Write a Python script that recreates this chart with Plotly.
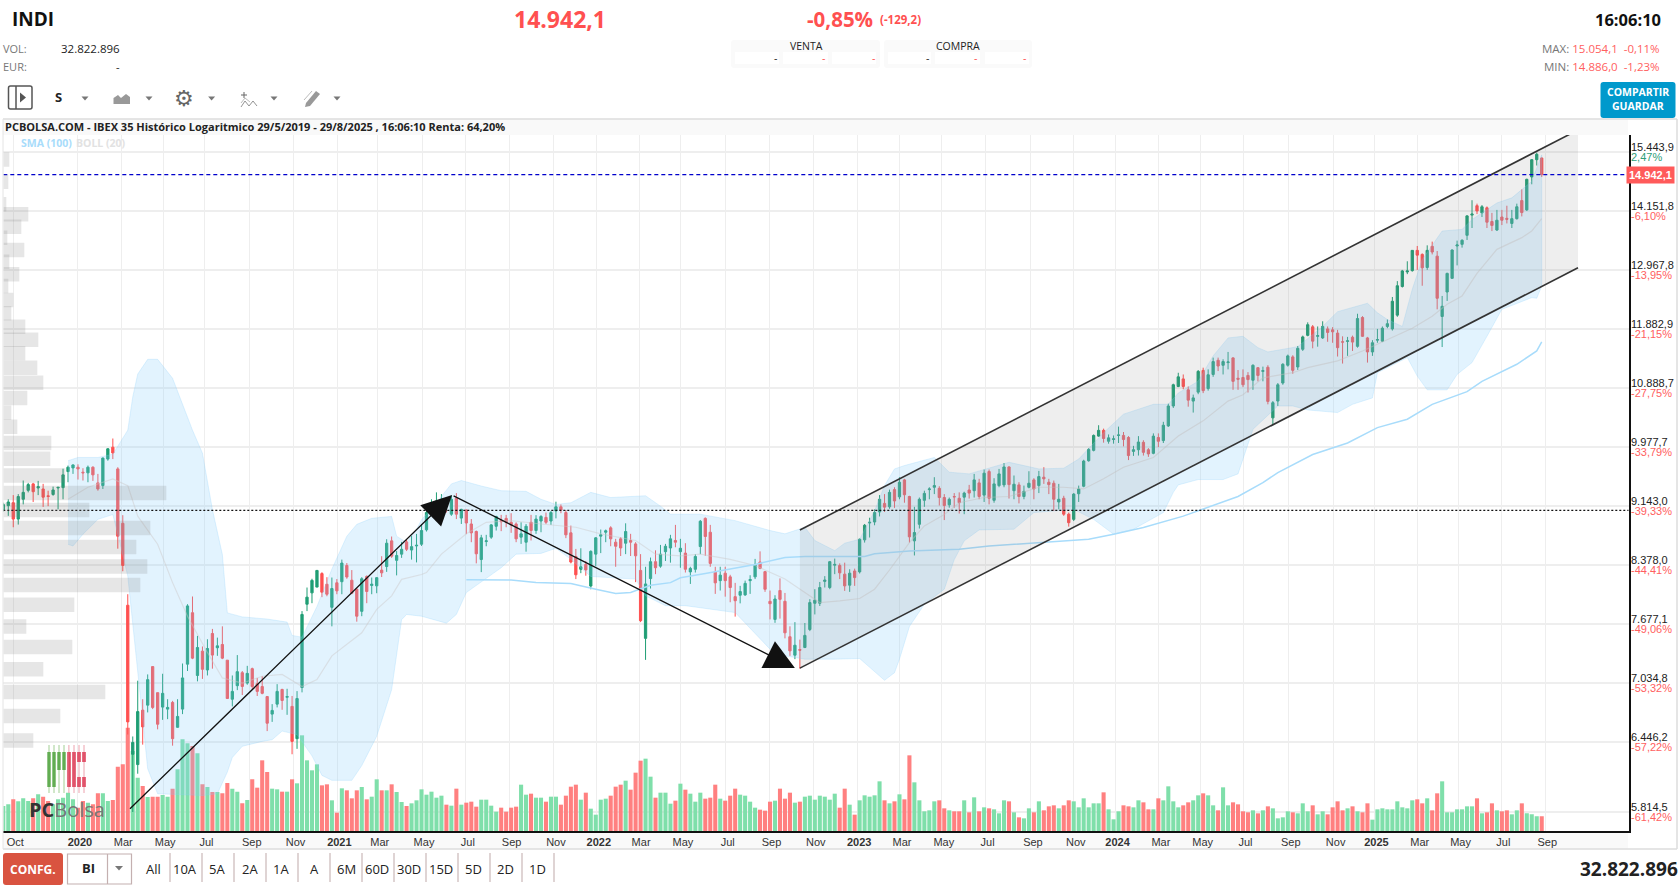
import math
import pandas as pd
import plotly.graph_objects as go

# weekly IBEX 35 candles, Sep 2019 - Aug 2025
opens = [9095,9150,9190,8970,9237,9360,9450,9393,9379,9285,
         9303,9393,9398,9624,9676,9686,9615,9606,9686,9464,
         9426,9804,9978,9662,8914,7895,6331,6235,6759,6809,
         7209,6936,6789,6769,6836,6589,6769,7235,7808,7115,
         7376,7173,7571,7413,7449,7278,6869,7008,7144,7035,
         7187,7028,6999,6896,6719,6819,6969,6889,6796,6479,
         6989,7907,8041,8110,8274,8144,7871,8162,8175,8374,
         8193,8085,7824,8239,8130,8125,8317,8361,8685,8438,
         8516,8672,8568,8620,8642,8828,9134,9143,9200,9214,
         9035,9251,8983,9091,8905,8806,8448,8676,8733,8875,
         8949,8979,8927,8905,8733,8668,8927,8819,8944,8992,
         8944,9078,9134,9057,8789,8486,8327,8387,8123,8516,
         8746,8797,8854,8668,8711,8655,8690,8646,8313,7517,
         8213,8421,8366,8547,8594,8690,8547,8529,8295,8327,
         8612,8979,8797,8298,8188,8279,8234,7996,8013,8017,
         8188,8234,8417,8298,7941,7731,8069,7941,7535,7332,
         7394,7416,7616,7918,7918,8179,8105,8378,8374,8267,
         8133,8306,8295,8698,8918,8931,9065,9181,9134,9370,
         9270,9506,9275,8685,8901,9223,9370,9403,9388,9261,
         9162,9275,9251,9266,9365,9355,9464,9294,9624,9223,
         9426,9436,9690,9355,9436,9275,9403,9506,9426,9544,
         9473,9459,9200,9251,9035,8966,9313,9417,9780,9931,
         10143,10230,10066,10092,10153,10153,10122,9916,9940,10050,
         9940,9888,10122,10076,10297,10606,10917,11040,10863,10683,
         10826,11180,10883,11113,11349,11265,11310,11389,11051,11063,
         11097,11018,11225,11164,11232,10421,10684,10973,11266,11406,
         11237,11535,11776,11926,11759,11731,11889,11872,11816,11664,
         11670,11743,11586,12091,11731,11490,11692,11675,11932,11889,
         12134,12660,12935,12961,13356,13276,13022,13436,13242,12110,
         12557,12814,13443,13476,13657,14072,14269,14119,14225,13939,
         13765,14032,14005,13899,13998,14378,14181,14890,15276,15313]
highs = [9190,9237,9294,9308,9497,9464,9464,9492,9450,9355,
         9412,9407,9665,9710,9728,9728,9672,9710,9700,9591,
         9827,9964,10107,9686,9022,8025,6500,7060,6869,7126,
         7209,6936,7133,6869,6852,6869,7242,7907,7998,7545,
         7427,7507,7623,7525,7652,7278,7115,7333,7162,7217,
         7198,7089,7107,6902,6819,7024,6976,6976,6902,6952,
         7827,8105,8211,8317,8291,8230,8226,8207,8447,8404,
         8317,8093,8230,8252,8226,8230,8490,8706,8741,8555,
         8672,8698,8750,8775,8905,9078,9237,9332,9308,9261,
         9285,9322,9108,9100,8970,8819,8763,8763,8905,9013,
         9026,9026,9048,8927,8927,8905,9026,9022,9022,9057,
         9078,9204,9167,9091,8884,8582,8590,8430,8564,8733,
         8832,8832,8875,8711,8733,8914,8776,8668,8516,8358,
         8473,8564,8633,8646,8763,8893,8711,8655,8358,8516,
         8958,8992,8893,8358,8358,8358,8259,8161,8125,8188,
         8254,8456,8551,8306,8069,8013,8215,8040,7652,7700,
         7503,7690,7966,8085,8172,8243,8430,8460,8400,8409,
         8327,8335,8715,8905,8988,9100,9294,9308,9370,9403,
         9544,9521,9285,9134,9261,9355,9403,9544,9417,9308,
         9261,9322,9332,9341,9436,9591,9521,9653,9653,9530,
         9662,9747,9700,9568,9473,9426,9629,9530,9634,9686,
         9521,9497,9450,9285,9057,9322,9426,9794,9964,10168,
         10308,10256,10168,10153,10287,10205,10143,9998,10143,10081,
         9964,10184,10184,10360,10642,10962,11141,11113,10917,10786,
         11186,11225,11197,11394,11394,11366,11490,11400,11186,11197,
         11152,11282,11236,11243,11266,10684,10973,11300,11445,11434,
         11592,11771,12005,11957,11932,12024,11932,11920,11872,11759,
         11749,11771,12159,12116,11749,11692,11889,11932,12055,12465,
         12761,12975,13142,13363,13443,13296,13456,13530,13343,12484,
         12921,13376,13550,13577,14072,14386,14313,14283,14254,14119,
         14181,14181,14269,14181,14313,14619,14852,15291,15437,15327]
lows = [9070,9013,8862,8897,9167,9332,9200,9294,9133,9143,
        9285,9100,9237,9473,9591,9511,9497,9473,9492,9355,
        9379,9780,9804,8585,8303,6519,5812,6151,6422,6736,
        6769,6569,6662,6669,6412,6585,6719,7162,7289,7053,
        7079,7115,7187,7325,7289,6876,6796,6962,6912,7018,
        6976,6902,6919,6552,6642,6786,6762,6712,6331,6382,
        6939,7827,7919,8110,7990,8001,7652,8025,8025,8211,
        8025,7705,7768,7919,8025,8037,8232,8295,8469,8252,
        8469,8555,8447,8412,8620,8806,9013,8970,9100,9057,
        9013,8970,8905,8772,8668,8400,8292,8616,8711,8819,
        8811,8862,8789,8668,8646,8547,8690,8776,8797,8905,
        8893,8979,9048,8720,8400,8207,8279,8248,8084,8366,
        8529,8668,8616,8358,8492,8516,8492,8170,7700,7281,
        8093,8267,8346,8430,8409,8603,8346,8287,8148,8287,
        8516,8495,8358,8029,8069,7996,7930,7763,7917,8005,
        8029,8207,8327,8053,7731,7692,7740,7517,7325,7289,
        7186,7409,7598,7788,7886,8105,8085,8267,8207,8065,
        8053,8125,8275,8663,8728,8888,9005,9065,9108,9120,
        9237,9190,8663,8499,8845,9134,9237,9308,9152,8957,
        9122,9122,9044,9035,9247,9261,9237,9200,9167,9190,
        9403,9403,9247,9237,9181,9237,9388,9237,9322,9450,
        9308,9078,9100,9013,8870,8944,9200,9403,9766,9916,
        10133,10045,10030,10030,10040,9990,9789,9850,9855,9855,
        9836,9874,9978,10040,10282,10575,10906,10872,10595,10503,
        10793,10810,10850,11074,11169,11113,11197,10863,10863,10906,
        10820,10863,11000,11001,10632,10308,10606,10945,11243,11125,
        11187,11507,11759,11552,11580,11714,11664,11647,11412,11294,
        11423,11507,11563,11749,11310,11423,11647,11659,11901,11860,
        12104,12640,12894,12941,12975,12674,12975,13276,12239,11574,
        12392,12810,13062,13410,13563,13806,14094,14032,13806,13743,
        13745,13866,13899,13806,13979,14045,14159,14729,15145,14890]
closes = [9165,9200,8970,9275,9332,9440,9341,9412,9266,9275,
          9365,9402,9577,9686,9719,9662,9606,9686,9577,9379,
          9818,9954,9893,8745,8374,6642,6443,6744,6593,7071,
          6786,6619,6929,6786,6479,6696,7089,7887,7300,7416,
          7180,7405,7333,7434,7300,6876,6949,7155,7000,7137,
          6999,6949,6929,6629,6756,6949,6856,6896,6453,6876,
          7788,7990,8191,8313,8049,8025,8093,8065,8404,8232,
          8037,7768,8211,8057,8145,8224,8283,8655,8490,8499,
          8577,8577,8611,8628,8819,9057,9152,9214,9237,9143,
          9237,9035,9100,8918,8789,8520,8724,8685,8893,9005,
          8936,8927,8893,8711,8776,8875,8819,8970,9005,8927,
          9057,9134,9091,8763,8417,8259,8358,8319,8551,8724,
          8763,8815,8711,8616,8594,8806,8668,8495,7717,8148,
          8421,8346,8516,8616,8711,8668,8590,8327,8338,8486,
          8941,8741,8400,8161,8255,8188,8105,7948,8057,8155,
          8202,8387,8338,8084,7913,7968,7964,7579,7379,7441,
          7386,7550,7926,7954,8105,8195,8421,8387,8283,8125,
          8279,8225,8706,8888,8927,9057,9237,9130,9332,9214,
          9473,9299,8737,8793,9237,9318,9379,9426,9261,9152,
          9237,9270,9190,9322,9322,9506,9275,9601,9251,9450,
          9591,9690,9440,9445,9275,9346,9459,9379,9553,9521,
          9440,9237,9237,9035,8922,9308,9379,9775,9945,10153,
          10230,10107,10117,10102,10160,10092,9855,9940,10055,9902,
          9879,10143,10066,10308,10606,10945,11074,10917,10698,10734,
          11164,10850,11108,11327,11253,11327,11321,11000,11035,10945,
          11029,11265,11097,11176,10678,10658,10945,11282,11423,11181,
          11552,11749,11963,11675,11771,11932,11827,11838,11563,11659,
          11681,11659,12073,11759,11490,11647,11703,11901,11981,12386,
          12674,12955,12955,13356,13262,13015,13356,13323,12441,12294,
          12908,13363,13463,13557,14056,14094,14159,14247,13925,13859,
          13966,13966,13985,13998,14247,14125,14838,15276,15400,14942]
volumes = [75,80,95,89,98,90,98,110,103,90,
           80,95,100,115,95,70,90,85,80,113,
           113,90,93,193,200,310,240,160,135,102,
           103,103,108,103,127,185,275,263,255,233,
           140,132,117,117,113,144,127,118,83,93,
           155,130,212,177,127,125,118,118,155,143,
           287,212,182,200,137,140,92,55,128,122,
           98,122,132,95,103,155,122,122,140,117,
           87,75,83,92,125,109,118,100,106,79,
           76,127,79,85,88,73,94,94,76,58,
           70,58,70,73,139,109,112,100,100,88,
           103,103,79,106,133,139,94,115,67,49,
           94,97,106,133,139,151,124,175,211,217,
           163,100,115,115,82,91,142,124,112,88,
           115,97,100,139,97,91,106,127,109,106,
           88,70,64,61,88,91,127,97,115,85,
           88,103,106,94,106,103,94,112,70,127,
           79,49,92,107,103,107,149,92,83,89,
           110,95,227,146,92,59,62,89,92,68,
           62,59,59,92,56,101,59,71,68,65,
           53,92,89,56,41,38,68,56,89,62,
           74,77,68,77,92,89,71,98,71,83,
           83,116,65,35,59,77,74,71,92,86,
           65,65,98,92,134,89,71,77,86,92,
           107,113,107,77,62,131,77,86,80,59,
           56,62,53,62,74,68,38,41,59,56,
           53,83,59,77,50,59,50,71,89,62,
           68,74,59,56,83,34,65,68,65,65,
           89,71,68,92,95,83,98,62,113,149,
           56,56,65,65,74,74,98,53,56,83,
           62,59,62,50,62,83,53,50,44,44]

# bollinger (20) and sma (100), read at some of the weeks
upper_weeks = [13,15,19,22,23,25,26,27,29,31,34,38,40,42,44,45,48,53,57,58,60,63,66,69,71,74,78,79,81,83,84,87,90,92,96,
               100,105,108,111,114,118,122,129,132,134,140,147,154,157,161,163,167,169,172,175,177,179,181,187,190,194,
               202,208,213,216,221,225,231,234,236,240,243,246,249,252,254,260,265,268,274,276,278,281,283,285,289,293,
               295,300,303,307,309]
upper_band = [9780,9827,9827,9875,9993,10233,10750,11120,11365,11365,11050,10233,9890,9097,8510,7806,7760,7735,7700,7550,7530,7880,8330,8745,8900,8980,9005,8745,8665,8835,8960,9190,9450,9497,9420,
              9355,9346,9237,9167,9190,9332,9261,9285,9143,9035,9035,8949,8819,8776,8862,8689,8560,8655,8706,9078,9426,9662,9710,9827,9615,9591,
              9757,9662,9672,9804,10194,10478,10632,10632,10812,11001,11422,11731,11759,11563,11490,11580,11932,12196,12349,12177,12055,11932,12606,13175,13744,13777,
              13979,14327,14437,14794,15385]
lower_weeks = [13,14,16,19,22,23,25,26,27,28,29,31,40,43,45,46,48,52,54,56,59,62,64,66,70,72,75,78,80,81,84,89,91,93,
               100,103,108,111,114,118,127,129,133,137,147,154,157,161,167,172,177,179,180,182,185,189,191,193,196,
               203,207,215,219,223,227,233,235,236,240,245,248,249,251,256,259,262,268,271,275,276,282,284,286,290,
               292,295,298,301,307,308,309]
lower_band = [8640,8620,8771,8966,9030,8771,8243,7728,7180,6668,6196,5971,5956,5971,6166,6301,6406,6453,6469,6552,6519,6316,6136,6091,6091,6226,6502,6966,7728,7788,7768,7688,7788,8045,
              8346,8516,8525,8590,8451,8239,8207,8006,7890,7890,7810,7398,7325,7289,7289,7296,7064,7144,7289,7650,7907,8085,8447,8685,8827,
              8836,9057,9100,8966,8771,8836,9057,9332,9436,9511,9511,9591,9808,10246,10606,10606,10544,10503,10632,10734,11142,11394,11086,10863,10863,
              11113,11310,11759,12239,12453,12441,12668]
mid_weeks = [13,17,22,25,27,31,34,37,41,44,48,52,56,60,63,66,72,75,78,80,84,85,88,93,97,102,108,115,120,127,131,136,140,146,151,157,161,164,168,
             172,175,178,182,185,189,192,197,202,208,213,217,221,225,231,236,241,246,249,253,259,262,268,273,278,283,287,290,293,296,300,305,307,309]
mid_band = [9237,9403,9521,9426,9009,8642,8164,7768,7362,7089,7035,7107,7126,6999,7071,7325,7579,7847,8006,8204,8263,8287,8516,8776,8927,8949,8905,8862,8776,8690,8516,8495,8516,8451,8374,8208,8045,7926,7946,
            7974,8085,8318,8663,8879,9030,9190,9261,9275,9403,9403,9379,9521,9686,9827,10143,10375,10683,10785,11057,11142,11226,11338,11507,11703,11901,12116,12330,12484,12908,13376,13610,13745,14000]
sma_weeks = [93,102,107,114,119,123,126,130,134,136,141,147,151,157,161,173,175,182,192,198,210,218,223,229,237,241,248,253,256,263,270,276,282,287,294,297,304,308,309]
sma_100 = [8200,8196,8164,8152,8085,8033,8045,8132,8164,8223,8275,8346,8387,8473,8486,8486,8521,8555,8577,8620,8672,8706,8771,8858,9009,9105,9275,9467,9610,9870,10040,10271,10400,10632,10833,11001,11282,11507,11664]

# volume by price on the left side
profile_prices = [15283,14785,14300,14088,13832,13609,13363,13134,12891,12669,12409,12166,11927,11700,11467,11224,10978,10731,10500,10284,
                  10040,9808,9568,9322,9091,8853,8607,8362,8136,7902,7650,7421,7180,6943,6700,6462]
profile_volume = [6,5,3,25,18,4,21,6,16,5,10,8,22,35,22,34,40,24,8,14,
                  48,47,62,163,86,147,133,144,137,71,23,69,40,102,57,30]

# channel and trend lines drawn by hand on the chart
channel_dates = ["2022-10-17", "2025-10-15"]
channel_top = [8825, 15963]
channel_bottom = [7193, 13016]
arrow_start = ("2020-03-17", 5828)
arrow_peak = ("2021-06-15", 9295)
arrow_low = ("2022-10-10", 7193)
last_price = 14942.1
dotted_level = 9087

level_prices = [15443.9,14151.8,12967.8,11882.9,10888.7,9977.7,9143.0,8378.0,7677.1,7034.8,6446.2,5814.5]
level_pcts = [2.47,-6.10,-13.95,-21.15,-27.75,-33.79,-39.33,-44.41,-49.06,-53.32,-57.22,-61.42]

# the chart puts a grid line on the first candle of the month, counted in candles here
tick_weeks = [2.0,15,23.7,32.1,40.4,49.5,58.3,
              67.1,75.2,84.1,92.9,101.7,110.6,
              119.2,127.7,136.1,145.1,153.9,162.8,
              171.5,180.1,188.5,197.3,206.4,215,
              223.4,232.1,240.5,249.1,258.2,267.2,
              275.4,284.1,292.3,300.9,309.7]
tick_text = ["Oct","<b>2020</b>","Mar","May","Jul","Sep","Nov",
             "<b>2021</b>","Mar","May","Jul","Sep","Nov",
             "<b>2022</b>","Mar","May","Jul","Sep","Nov",
             "<b>2023</b>","Mar","May","Jul","Sep","Nov",
             "<b>2024</b>","Mar","May","Jul","Sep","Nov",
             "<b>2025</b>","Mar","May","Jul","Sep"]

periods = ["All","10A","5A","2A","1A","A","6M","60D","30D","15D","5D","2D","1D"]
period_x = [153,185,217,250,281,314,346,377,409,441,473,505,537]
period_sep = [170,202,234,266,298,330,362,394,426,458,490,522,554]

W, H = 1680, 889
PLOT_L, PLOT_R, PLOT_T, PLOT_B = 3.3, 1628.7, 135, 831
UP, DOWN = "#1f9e74", "#ff5050"
SANS = "Open Sans, Liberation Sans, sans-serif"
ARIAL = "Liberation Sans, Arial, sans-serif"

dates = pd.date_range(end="2025-08-25", periods=len(opens), freq="7D")
tick_dates = [dates[0] + pd.Timedelta(weeks=w) for w in tick_weeks]


def px(x):
    return x / W


def py(y):
    return 1 - y / H


def spanish(v):
    return f"{v:,.1f}".replace(",", "X").replace(".", ",").replace("X", ".")


def note(x, y, text, size=11, color="#333", bold=False, anchor="left", family=SANS):
    return dict(xref="paper", yref="paper", x=px(x), y=py(y), text=f"<b>{text}</b>" if bold else text,
                showarrow=False, xanchor=anchor, yanchor="middle", align=anchor,
                font=dict(size=size, color=color, family=family), borderpad=0, borderwidth=0)


def box(x0, y0, x1, y1, fill=None, line=None, width=1, layer="above"):
    return dict(type="rect", xref="paper", yref="paper", x0=px(x0), x1=px(x1), y0=py(y0), y1=py(y1),
                fillcolor=fill or "rgba(0,0,0,0)", line=dict(color=line or "rgba(0,0,0,0)", width=width if line else 0),
                layer=layer)


def seg(x0, y0, x1, y1, color="#bfa9a9", width=1):
    return dict(type="line", xref="paper", yref="paper", x0=px(x0), x1=px(x1), y0=py(y0), y1=py(y1),
                line=dict(color=color, width=width), layer="above")


def poly(points, fill):
    d = "M" + " L".join(f"{px(x):.5f},{py(y):.5f}" for x, y in points) + " Z"
    return dict(type="path", xref="paper", yref="paper", path=d, fillcolor=fill, line=dict(width=0), layer="above")


def rounded(x0, y0, x1, y1, r, fill, line=None):
    d = (f"M{px(x0+r)},{py(y0)} L{px(x1-r)},{py(y0)} Q{px(x1)},{py(y0)} {px(x1)},{py(y0+r)} "
         f"L{px(x1)},{py(y1-r)} Q{px(x1)},{py(y1)} {px(x1-r)},{py(y1)} L{px(x0+r)},{py(y1)} "
         f"Q{px(x0)},{py(y1)} {px(x0)},{py(y1-r)} L{px(x0)},{py(y0+r)} Q{px(x0)},{py(y0)} {px(x0+r)},{py(y0)} Z")
    return dict(type="path", xref="paper", yref="paper", path=d, fillcolor=fill,
                line=dict(color=line or "rgba(0,0,0,0)", width=1.5 if line else 0), layer="above")


fig = go.Figure()

# volume goes on the bottom subplot, price is overlaid
vol_colors = ["#7fdfaa" if c >= o else "#ff8080" for o, c in zip(opens, closes)]
fig.add_trace(go.Bar(x=dates, y=volumes, marker=dict(color=vol_colors, line=dict(width=0)),
                     xaxis="x", yaxis="y", name="Vol"))

fig.add_trace(go.Candlestick(x=dates, open=opens, high=highs, low=lows, close=closes, xaxis="x", yaxis="y2",
                             increasing=dict(line=dict(color=UP, width=1), fillcolor=UP),
                             decreasing=dict(line=dict(color=DOWN, width=1), fillcolor=DOWN),
                             whiskerwidth=0, name="IBEX 35"))

# bollinger band, upper edge then lower edge backwards
band_x = [dates[i] for i in upper_weeks] + [dates[i] for i in reversed(lower_weeks)]
band_y = upper_band + lower_band[::-1]
fig.add_trace(go.Scatter(x=band_x, y=band_y, mode="lines", fill="toself", fillcolor="rgba(135,206,250,0.24)",
                         line=dict(color="rgba(135,206,250,0.25)", width=1), xaxis="x", yaxis="y2", name="BOLL (20)"))
fig.add_trace(go.Scatter(x=[dates[i] for i in mid_weeks], y=mid_band, mode="lines",
                         line=dict(color="rgba(205,200,200,0.45)", width=1.2), xaxis="x", yaxis="y2", name="BOLL mid"))
fig.add_trace(go.Scatter(x=[dates[i] for i in sma_weeks], y=sma_100, mode="lines",
                         line=dict(color="#a8dcfb", width=1.5), xaxis="x", yaxis="y2", name="SMA (100)"))

# regression channel
fig.add_trace(go.Scatter(x=channel_dates + channel_dates[::-1], y=channel_top + channel_bottom[::-1], mode="lines",
                         fill="toself", fillcolor="rgba(125,125,125,0.13)", line=dict(width=0),
                         xaxis="x", yaxis="y2", name="Canal"))
for edge in (channel_top, channel_bottom):
    fig.add_trace(go.Scatter(x=channel_dates, y=edge, mode="lines", line=dict(color="#333", width=1.6),
                             xaxis="x", yaxis="y2", showlegend=False))

x_left, x_right = "2019-09-23", "2025-12-25 07:00"
fig.add_trace(go.Scatter(x=[x_left, x_right], y=[dotted_level] * 2, mode="lines",
                         line=dict(color="#111", width=1.2, dash="2px 2px"), xaxis="x", yaxis="y2", showlegend=False))
fig.add_trace(go.Scatter(x=[x_left, x_right], y=[last_price] * 2, mode="lines",
                         line=dict(color="#0000cc", width=1.2, dash="4px 3px"), xaxis="x", yaxis="y2", showlegend=False))

# volume profile rows, each one a thick segment
prof_x, prof_y = [], []
for p, v in zip(profile_prices, profile_volume):
    prof_x += [0, v, None]
    prof_y += [p, p, None]
fig.add_trace(go.Scatter(x=prof_x, y=prof_y, mode="lines", line=dict(color="rgba(130,130,130,0.2)", width=14.5),
                         xaxis="x3", yaxis="y2", showlegend=False))

shapes = [
    # frames around the chart
    box(3, 119, 1628, 135, fill="#f9f9f9", layer="below"),
    box(3, 832, 1628, 849, fill="#f9f9f9", layer="below"),
    seg(3, 119, 1677, 119, "#dddddd", 1.5),
    seg(1677, 119, 1677, 849, "#dddddd", 1.5),
    seg(3, 849, 1677, 849, "#dddddd", 1.5),
    seg(3, 119, 3, 849, "#e4e4e4", 1),
    # bid/ask panels
    rounded(731, 40, 880, 68, 3, "#fafafa"),
    rounded(884, 40, 1032, 68, 3, "#fafafa"),
    box(735, 52, 779, 64, fill="#ffffff"), box(783, 52, 828, 64, fill="#ffffff"), box(832, 52, 876, 64, fill="#ffffff"),
    box(888, 52, 931, 64, fill="#ffffff"), box(935, 52, 980, 64, fill="#ffffff"), box(985, 52, 1029, 64, fill="#ffffff"),
    # buttons
    rounded(1600.5, 82, 1675.5, 118, 3, "#0099cc"),
    rounded(3, 853, 63, 885, 3, "#d95340"),
    box(67.5, 854, 131.5, 884, line="#c4b0b0", width=1.2),
    seg(107.5, 854, 107.5, 884, "#c4b0b0", 1.2),
    poly([(115, 866), (123, 866), (119, 870.5)], "#777777"),
    # toolbar icons
    rounded(8.5, 86, 32, 109, 2, "rgba(0,0,0,0)", "#555555"),
    seg(16, 86, 16, 109, "#555555", 1.5),
    poly([(20, 92.5), (26, 97.5), (20, 102.5)], "#555555"),
    poly([(113.5, 104), (113.5, 98), (118, 95), (121, 98), (126, 94), (130, 97), (130, 104)], "#999999"),
    seg(241, 95, 247, 95, "#666666", 1), seg(244, 92, 244, 98, "#666666", 1),
    seg(241, 107, 245, 101, "#777777", 0.8), seg(245, 101, 249, 106, "#777777", 0.8),
    seg(249, 106, 253, 101, "#777777", 0.8), seg(253, 101, 257, 106, "#777777", 0.8),
    seg(241, 103, 245, 98, "#aaaaaa", 0.8), seg(245, 98, 250, 102, "#aaaaaa", 0.8),
    poly([(306, 103), (316, 91), (320, 94), (310, 106), (305, 107)], "#999999"),
    seg(304, 100, 312, 91, "#bbbbbb", 1),
]
for tx in (85, 149, 211.6, 274, 337):
    shapes.append(poly([(tx - 3.5, 96.5), (tx + 3.5, 96.5), (tx, 100.5)], "#777777"))
for s in period_sep:
    shapes.append(seg(s, 853, s, 882))

# logo, green and red candle columns
for x0, x1, bottom in ((47.3, 50.7, 787), (52.3, 55.7, 787), (57.3, 60.7, 770), (62.3, 65.7, 770)):
    shapes.append(seg((x0 + x1) / 2, 745, (x0 + x1) / 2, 793, "#8cc37a", 0.8))
    shapes.append(box(x0, 752, x1, bottom, fill="#62ad52"))
for x0, x1, top, bottom in ((67.3, 70.7, 752, 787), (72.3, 75.7, 752, 787), (77.3, 80.7, 752, 762), (82.3, 85.7, 752, 762),
                            (77.3, 80.7, 777, 787), (82.3, 85.7, 777, 787)):
    shapes.append(box(x0, top, x1, bottom, fill="#dc2f4b"))
for xc in (68.9, 74, 79, 84):
    shapes.append(seg(xc, 745, xc, 793, "#e88a99", 0.8))

annotations = [
    note(12, 19, "INDI", 19, "#111", True),
    note(514, 19, "14.942,1", 23, "#ff5050", True),
    note(807, 19, "-0,85%", 20.5, "#ff5050", True),
    note(880, 20, "(-129,2)", 11.5, "#ff5050", True),
    note(1661, 19, "16:06:10", 16.5, "#111", True, "right"),
    note(3, 48, "VOL:", 11, "#777"),
    note(120, 48, "32.822.896", 11.5, "#222", False, "right"),
    note(3, 66, "EUR:", 11, "#777"),
    note(120, 66, "-", 11, "#222", False, "right"),
    note(806, 46, "VENTA", 10.5, "#222", False, "center"),
    note(958, 46, "COMPRA", 10.5, "#222", False, "center"),
    note(777, 58, "-", 10.5, "#222", False, "right"), note(825, 58, "-", 10.5, "#ff5050", False, "right"),
    note(875, 58, "-", 10.5, "#ff5050", False, "right"), note(929, 58, "-", 10.5, "#222", False, "right"),
    note(977, 58, "-", 10.5, "#ff5050", False, "right"), note(1026, 58, "-", 10.5, "#ff5050", False, "right"),
    note(1660, 48, "<span style='color:#777'>MAX:</span> 15.054,1 &nbsp;-0,11%", 11.5, "#ff6060", False, "right"),
    note(1660, 66, "<span style='color:#777'>MIN:</span> 14.886,0 &nbsp;-1,23%", 11.5, "#ff6060", False, "right"),
    note(1638, 92, "COMPARTIR", 10.5, "#ffffff", True, "center"),
    note(1638, 106, "GUARDAR", 10.5, "#ffffff", True, "center"),
    note(58, 97, "S", 13, "#222", True, "center"),
    note(184, 98, "⚙", 22, "#666", False, "center", "DejaVu Sans"),
    note(5, 127, "PCBOLSA.COM - IBEX 35 Histórico Logaritmico 29/5/2019 - 29/8/2025 , 16:06:10 Renta: 64,20%", 11, "#222", True),
    note(21, 143, "SMA (100)", 10.5, "#a8dcfb", True),
    note(76, 143, "BOLL (20)", 10.5, "#e2e2e2", True),
    note(29, 809, "<b>PC</b><span style='color:#777'>Bolsa</span>", 20, "#333"),
    note(33, 869, "CONFG.", 12, "#ffffff", True, "center"),
    note(88, 868, "BI", 13, "#222", True, "center"),
    note(1678, 869, "32.822.896", 19, "#222", True, "right"),
    # last price tag
    dict(xref="paper", yref="paper", x=px(1650.5), y=py(175.5), text="<b>14.942,1</b>", showarrow=False,
         xanchor="center", yanchor="middle", bgcolor="#ff5a5a", borderpad=2,
         font=dict(size=11, color="#ffffff", family=ARIAL)),
    # hand drawn arrows
    dict(x=arrow_peak[0], y=math.log10(arrow_peak[1]), ax=arrow_start[0], ay=math.log10(arrow_start[1]),
         xref="x", yref="y2", axref="x", ayref="y2", text="", showarrow=True,
         arrowhead=2, arrowsize=4.6, arrowwidth=1.3, arrowcolor="#111"),
    dict(x=arrow_low[0], y=math.log10(arrow_low[1]), ax=arrow_peak[0], ay=math.log10(arrow_peak[1]),
         xref="x", yref="y2", axref="x", ayref="y2", text="", showarrow=True,
         arrowhead=2, arrowsize=4.6, arrowwidth=1.3, arrowcolor="#111"),
]
for name, x in zip(periods, period_x):
    annotations.append(note(x, 869, name, 13, "#222", False, "center"))
for price, pct in zip(level_prices, level_pcts):
    annotations.append(dict(xref="paper", yref="y2", x=px(1628.5), y=math.log10(price), yshift=5, text=spanish(price),
                            showarrow=False, xanchor="left", yanchor="middle", font=dict(size=11, color="#222", family=ARIAL)))
    annotations.append(dict(xref="paper", yref="y2", x=px(1628.5), y=math.log10(price), yshift=-5,
                            text=f"{pct:.2f}%".replace(".", ","), showarrow=False, xanchor="left", yanchor="middle",
                            font=dict(size=11, color="#2e9e78" if pct > 0 else "#ff6060", family=ARIAL)))

dom_x = [px(PLOT_L), px(PLOT_R)]
dom_y = [py(PLOT_B), py(PLOT_T)]
fig.update_layout(
    width=W, height=H, margin=dict(l=0, r=0, t=0, b=0), paper_bgcolor="#ffffff", plot_bgcolor="#ffffff",
    showlegend=False, bargap=0.18, boxgap=0.35, font=dict(family=ARIAL, size=11, color="#333"),
    xaxis=dict(domain=dom_x, range=[x_left, x_right], type="date", tickmode="array", tickvals=tick_dates, ticktext=tick_text,
               tickangle=0, ticks="", showgrid=True, gridcolor="#eeeeee", gridwidth=1, showline=True, linecolor="#111",
               linewidth=1.5, zeroline=False, rangeslider=dict(visible=False), ticklabelshift=2,
               tickfont=dict(size=11, color="#333", family=ARIAL)),
    yaxis=dict(domain=dom_y, range=[0, 2088], visible=False, fixedrange=True),
    yaxis2=dict(domain=dom_y, type="log", range=[3.7521, 4.1999], overlaying="y", side="right", anchor="x",
                tickmode="array", tickvals=level_prices, showticklabels=False, ticks="", showgrid=True,
                gridcolor="#eeeeee", gridwidth=1.5, showline=True, linecolor="#111", linewidth=1.5, zeroline=False),
    xaxis3=dict(domain=dom_x, range=[0, PLOT_R - PLOT_L], overlaying="x", anchor="y2", visible=False),
    shapes=shapes, annotations=annotations,
)

fig.write_html("out.html", config=dict(displayModeBar=False),
               post_script="document.body.style.margin='0';document.body.style.overflow='hidden';")
